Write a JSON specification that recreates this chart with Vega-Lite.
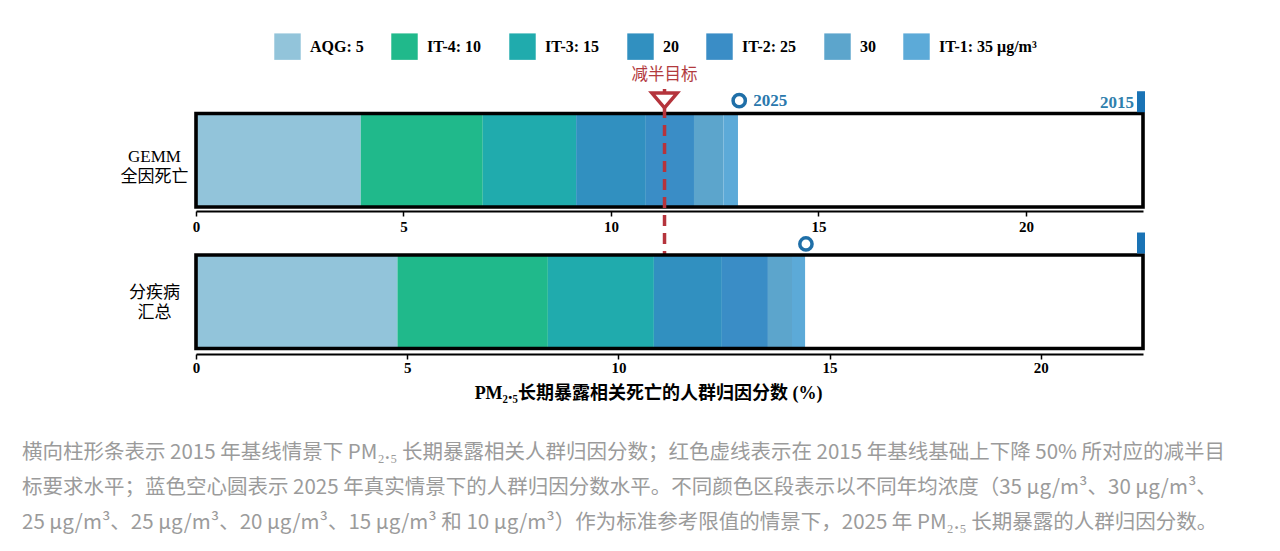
{
  "$schema": "https://vega.github.io/schema/vega-lite/v6.json",
  "autosize": {"type": "none"},
  "width": 947,
  "height": 259.5,
  "padding": {"left": 196, "top": 89, "right": 137, "bottom": 202},
  "background": "white",
  "config": {"view": {"stroke": null}},
  "title": {
    "text": [
      "横向柱形条表示 2015 年基线情景下 PM₂.₅ 长期暴露相关人群归因分数；红色虚线表示在 2015 年基线基础上下降 50% 所对应的减半目",
      "标要求水平；蓝色空心圆表示 2025 年真实情景下的人群归因分数水平。不同颜色区段表示以不同年均浓度（35 μg/m³、30 μg/m³、",
      "25 μg/m³、25 μg/m³、20 μg/m³、15 μg/m³ 和 10 μg/m³）作为标准参考限值的情景下，2025 年 PM₂.₅ 长期暴露的人群归因分数。"
    ],
    "orient": "bottom",
    "anchor": "start",
    "frame": "group",
    "dx": -174,
    "offset": 41,
    "baseline": "top",
    "font": "Noto Sans CJK SC",
    "fontSize": 20.5,
    "fontWeight": "normal",
    "color": "#9b9b9b",
    "lineHeight": 35
  },
  "datasets": {
    "segments": [
      {"panel": "GEMM", "level": "AQG: 5", "start": 0, "end": 3.97},
      {"panel": "GEMM", "level": "IT-4: 10", "start": 3.97, "end": 6.91},
      {"panel": "GEMM", "level": "IT-3: 15", "start": 6.91, "end": 9.16},
      {"panel": "GEMM", "level": "20", "start": 9.16, "end": 10.84},
      {"panel": "GEMM", "level": "IT-2: 25", "start": 10.84, "end": 12.0},
      {"panel": "GEMM", "level": "30", "start": 12.0, "end": 12.71},
      {"panel": "GEMM", "level": "IT-1: 35 μg/m³", "start": 12.71, "end": 13.06},
      {"panel": "分疾病汇总", "level": "AQG: 5", "start": 0, "end": 4.77},
      {"panel": "分疾病汇总", "level": "IT-4: 10", "start": 4.77, "end": 8.33},
      {"panel": "分疾病汇总", "level": "IT-3: 15", "start": 8.33, "end": 10.84},
      {"panel": "分疾病汇总", "level": "20", "start": 10.84, "end": 12.45},
      {"panel": "分疾病汇总", "level": "IT-2: 25", "start": 12.45, "end": 13.54},
      {"panel": "分疾病汇总", "level": "30", "start": 13.54, "end": 14.11},
      {"panel": "分疾病汇总", "level": "IT-1: 35 μg/m³", "start": 14.11, "end": 14.42}
    ],
    "panels": [
      {"panel": "GEMM", "base2015": 22.82, "actual2025": 13.09, "halving": 11.29, "year2015": "2015", "year2025": "2025", "target": "减半目标"},
      {"panel": "分疾病汇总", "base2015": 22.42, "actual2025": 14.44}
    ]
  },
  "resolve": {"scale": {"x": "independent"}, "axis": {"x": "independent"}},
  "layer": [
    {
      "layer": [
        {
          "data": {"name": "segments"},
          "transform": [{"filter": "datum.panel === 'GEMM'"}],
          "mark": {"type": "bar", "height": {"band": 1}},
          "encoding": {
            "x": {
              "field": "start", "type": "quantitative",
              "scale": {"domain": [0, 22.82], "nice": false, "zero": true},
              "axis": {
                "orient": "bottom", "offset": -137.5, "values": [0, 5, 10, 15, 20], "title": null,
                "grid": false, "domainColor": "black", "domainWidth": 2, "tickColor": "black",
                "tickWidth": 1.5, "tickSize": 5, "labelFont": "Liberation Serif", "labelFontWeight": "bold",
                "labelFontSize": 15, "labelColor": "black", "labelPadding": 3, "labelFlush": false
              }
            },
            "x2": {"field": "end"},
            "y": {
              "field": "panel", "type": "nominal",
              "scale": {"type": "band", "domain": ["GEMM", "分疾病汇总"], "paddingInner": 0.339, "paddingOuter": 0.0866, "align": 1},
              "axis": {
                "title": null, "domain": false, "ticks": false, "labelAlign": "center", "labelPadding": 42,
                "labelBaseline": "middle",
                "labelOffset": {"condition": {"test": "datum.value === 'GEMM'", "value": -3}, "value": -9},
                "labelExpr": "datum.value === 'GEMM' ? ['GEMM', '全因死亡'] : ['分疾病', '汇总']",
                "labelFont": "Liberation Serif, Noto Sans CJK SC", "labelFontSize": 17, "labelFontWeight": "normal",
                "labelColor": "black", "labelLineHeight": 20, "labelLimit": 200
              }
            },
            "color": {
              "field": "level", "type": "nominal",
              "scale": {
                "domain": ["AQG: 5", "IT-4: 10", "IT-3: 15", "20", "IT-2: 25", "30", "IT-1: 35 μg/m³"],
                "range": ["#92c4da", "#20b98b", "#20abad", "#3190c0", "#3a8dc6", "#5ca5cc", "#5caad8"]
              },
              "legend": {
                "orient": "none", "legendX": 78, "legendY": -56, "direction": "horizontal", "columns": 7,
                "title": null, "symbolType": "square", "symbolSize": 700, "symbolStrokeWidth": 0,
                "symbolOpacity": 1, "labelFont": "Liberation Serif", "labelFontWeight": "bold",
                "labelFontSize": 16, "labelColor": "black", "columnPadding": 27, "labelOffset": 9,
                "labelLimit": 400, "padding": 0
              }
            }
          }
        },
        {
          "data": {"name": "panels"},
          "transform": [{"filter": "datum.panel === 'GEMM'"}],
          "layer": [
            {
              "mark": {"type": "bar", "height": {"band": 1}, "fillOpacity": 0, "stroke": "black", "strokeWidth": 3.6},
              "encoding": {
                "x": {"field": "base2015", "type": "quantitative"},
                "y": {"field": "panel", "type": "nominal"}
              }
            },
            {
              "mark": {"type": "rule", "color": "#b5343c", "strokeWidth": 3.5, "strokeDash": [11, 7]},
              "encoding": {
                "x": {"field": "halving", "type": "quantitative"}
              }
            },
            {
              "mark": {"type": "point", "shape": "M-1,-0.55L1,-0.55L0,0.62Z", "filled": true, "fill": "white", "stroke": "#b5343c", "strokeWidth": 3.5, "size": 640, "opacity": 1},
              "encoding": {
                "x": {"field": "halving", "type": "quantitative"},
                "y": {"field": "panel", "type": "nominal", "bandPosition": -0.144}
              }
            },
            {
              "mark": {"type": "text", "color": "#b23a3e", "font": "Noto Sans CJK SC", "fontSize": 16.5, "baseline": "middle", "align": "center", "dy": -25},
              "encoding": {
                "x": {"field": "halving", "type": "quantitative"},
                "y": {"field": "panel", "type": "nominal", "bandPosition": -0.144},
                "text": {"field": "target"}
              }
            },
            {
              "mark": {"type": "point", "shape": "circle", "filled": false, "stroke": "#1f6fa8", "strokeWidth": 3.5, "size": 150, "opacity": 1},
              "encoding": {
                "x": {"field": "actual2025", "type": "quantitative"},
                "y": {"field": "panel", "type": "nominal", "bandPosition": -0.137}
              }
            },
            {
              "mark": {"type": "text", "color": "#2a78ad", "font": "Liberation Serif", "fontWeight": "bold", "fontSize": 17, "baseline": "middle", "align": "left", "dx": 14},
              "encoding": {
                "x": {"field": "actual2025", "type": "quantitative"},
                "y": {"field": "panel", "type": "nominal", "bandPosition": -0.137},
                "text": {"field": "year2025"}
              }
            },
            {
              "mark": {"type": "point", "shape": "M-0.57,-1L0.19,-1L0.19,1L-0.57,1Z", "filled": true, "color": "#1a73b5", "size": 441, "opacity": 1},
              "encoding": {
                "x": {"field": "base2015", "type": "quantitative"},
                "y": {"field": "panel", "type": "nominal", "bandPosition": -0.126}
              }
            },
            {
              "mark": {"type": "text", "color": "#2f80ad", "font": "Liberation Serif", "fontWeight": "bold", "fontSize": 17, "baseline": "middle", "align": "right", "dx": -9},
              "encoding": {
                "x": {"field": "base2015", "type": "quantitative"},
                "y": {"field": "panel", "type": "nominal", "bandPosition": -0.109},
                "text": {"field": "year2015"}
              }
            }
          ]
        }
      ]
    },
    {
      "layer": [
        {
          "data": {"name": "segments"},
          "transform": [{"filter": "datum.panel === '分疾病汇总'"}],
          "mark": {"type": "bar", "height": {"band": 1}},
          "encoding": {
            "x": {
              "field": "start", "type": "quantitative",
              "scale": {"domain": [0, 22.42], "nice": false, "zero": true},
              "axis": {
                "orient": "bottom", "offset": 5.5, "values": [0, 5, 10, 15, 20],
                "title": "PM₂.₅长期暴露相关死亡的人群归因分数 (%)",
                "grid": false, "domainColor": "black", "domainWidth": 2, "tickColor": "black",
                "tickWidth": 1.5, "tickSize": 5, "labelFont": "Liberation Serif", "labelFontWeight": "bold",
                "labelFontSize": 15, "labelColor": "black", "labelPadding": 1, "labelFlush": false,
                "titleFont": "Liberation Serif, Noto Sans CJK SC", "titleFontSize": 18, "titleFontWeight": "bold",
                "titleColor": "black", "titleX": 452, "titleY": 39, "titleAlign": "center", "titleBaseline": "middle", "titleAngle": 0
              }
            },
            "x2": {"field": "end"},
            "y": {"field": "panel", "type": "nominal"},
            "color": {"field": "level", "type": "nominal"}
          }
        },
        {
          "data": {"name": "panels"},
          "transform": [{"filter": "datum.panel === '分疾病汇总'"}],
          "layer": [
            {
              "mark": {"type": "bar", "height": {"band": 1}, "fillOpacity": 0, "stroke": "black", "strokeWidth": 3.6},
              "encoding": {
                "x": {"field": "base2015", "type": "quantitative"},
                "y": {"field": "panel", "type": "nominal"}
              }
            },
            {
              "mark": {"type": "point", "shape": "circle", "filled": false, "stroke": "#1f6fa8", "strokeWidth": 3.5, "size": 150, "opacity": 1},
              "encoding": {
                "x": {"field": "actual2025", "type": "quantitative"},
                "y": {"field": "panel", "type": "nominal", "bandPosition": -0.118}
              }
            },
            {
              "mark": {"type": "point", "shape": "M-0.57,-1L0.19,-1L0.19,1L-0.57,1Z", "filled": true, "color": "#1a73b5", "size": 441, "opacity": 1},
              "encoding": {
                "x": {"field": "base2015", "type": "quantitative"},
                "y": {"field": "panel", "type": "nominal", "bandPosition": -0.128}
              }
            }
          ]
        }
      ]
    }
  ]
}
